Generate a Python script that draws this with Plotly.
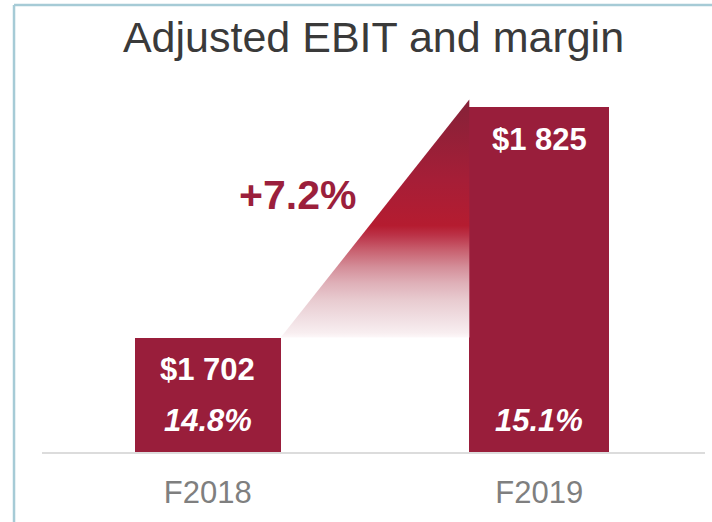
import plotly.graph_objects as go

# ---- data ----
categories = ["F2018", "F2019"]
ebit_values = [1702, 1825]
ebit_labels = ["$1 702", "$1 825"]
margin_labels = ["14.8%", "15.1%"]
growth_label = "+7.2%"
title_text = "Adjusted EBIT and margin"

# ---- styling ----
BAR_COLOR = "#991e3b"
FONT = "Liberation Sans, Arial, sans-serif"
bar_widths = [0.44, 0.422]
x_pos = list(range(len(categories)))
y_range = [1640.8, 1839.7]

fig = go.Figure()

# gradient wedge linking the two bars
x_left = x_pos[0] + bar_widths[0] / 2
x_right = x_pos[1] - bar_widths[1] / 2
apex = ebit_values[1] + 0.035 * (ebit_values[1] - ebit_values[0])
wedge_scale = [
    [0.0, "#fdf8f9"],
    [0.02, "#f8eef0"],
    [0.086, "#f0dde1"],
    [0.157, "#e8cbd0"],
    [0.229, "#dfb0b8"],
    [0.296, "#d48e99"],
    [0.367, "#c8606f"],
    [0.43, "#bb3247"],
    [0.47, "#b51c30"],
    [0.66, "#a61e37"],
    [0.95, "#8a2138"],
    [1.0, "#852139"],
]
fig.add_trace(go.Scatter(
    x=[x_left, x_right, x_right, x_left],
    y=[ebit_values[0], apex, ebit_values[0], ebit_values[0]],
    mode="lines",
    line=dict(width=0),
    fill="toself",
    fillgradient=dict(type="vertical", start=ebit_values[0], stop=apex,
                      colorscale=wedge_scale),
    hoverinfo="skip",
    showlegend=False,
))

# bars
fig.add_trace(go.Bar(
    x=x_pos,
    y=ebit_values,
    width=bar_widths,
    marker=dict(color=BAR_COLOR, line=dict(width=0)),
    hoverinfo="skip",
    showlegend=False,
))

annotations = []
for i in range(len(categories)):
    annotations.append(dict(
        x=x_pos[i], y=ebit_values[i], xref="x", yref="y",
        text="<b>%s</b>" % ebit_labels[i], showarrow=False,
        yanchor="middle", yshift=-32,
        font=dict(family=FONT, size=31, color="white"),
    ))
    annotations.append(dict(
        x=x_pos[i], y=y_range[0], xref="x", yref="y",
        text="<b><i>%s</i></b>" % margin_labels[i], showarrow=False,
        yanchor="middle", yshift=32,
        font=dict(family=FONT, size=31, color="white"),
    ))
annotations.append(dict(
    x=0.272, y=(ebit_values[0] + ebit_values[1]) / 2, xref="x", yref="y",
    text="<b>%s</b>" % growth_label, showarrow=False,
    yanchor="middle", yshift=28,
    font=dict(family=FONT, size=41, color="#9b1f3c"),
))

border_color = "#a6cbd6"
shapes = [
    dict(type="line", xref="paper", yref="paper",
         x0=-0.0422, x1=1.2, y0=1.2016, y1=1.2016,
         line=dict(color=border_color, width=2.5)),
    dict(type="line", xref="paper", yref="paper",
         x0=-0.0422, x1=-0.0422, y0=1.2016, y1=-0.25,
         line=dict(color=border_color, width=2.5)),
]

fig.update_layout(
    width=712, height=522,
    margin=dict(l=42, r=7, t=80, b=70),
    paper_bgcolor="white",
    plot_bgcolor="white",
    title=dict(
        text=title_text, x=0.5, xref="paper",
        y=0.958, yref="container", yanchor="top",
        font=dict(family=FONT, size=43, color="#3a3a3a"),
    ),
    xaxis=dict(
        range=[-0.5, 1.5],
        tickvals=x_pos, ticktext=categories,
        showline=True, linecolor="#dcdcdc", linewidth=2,
        showgrid=False, zeroline=False, ticks="",
        tickfont=dict(family=FONT, size=31, color="#7f7f7f"),
        ticklabelstandoff=12,
        fixedrange=True,
    ),
    yaxis=dict(range=y_range, visible=False, fixedrange=True),
    annotations=annotations,
    shapes=shapes,
    bargap=0,
)

fig.write_html(
    "out.html",
    config={"displayModeBar": False},
    post_script="document.body.style.margin='0';document.body.style.overflow='hidden';",
)
